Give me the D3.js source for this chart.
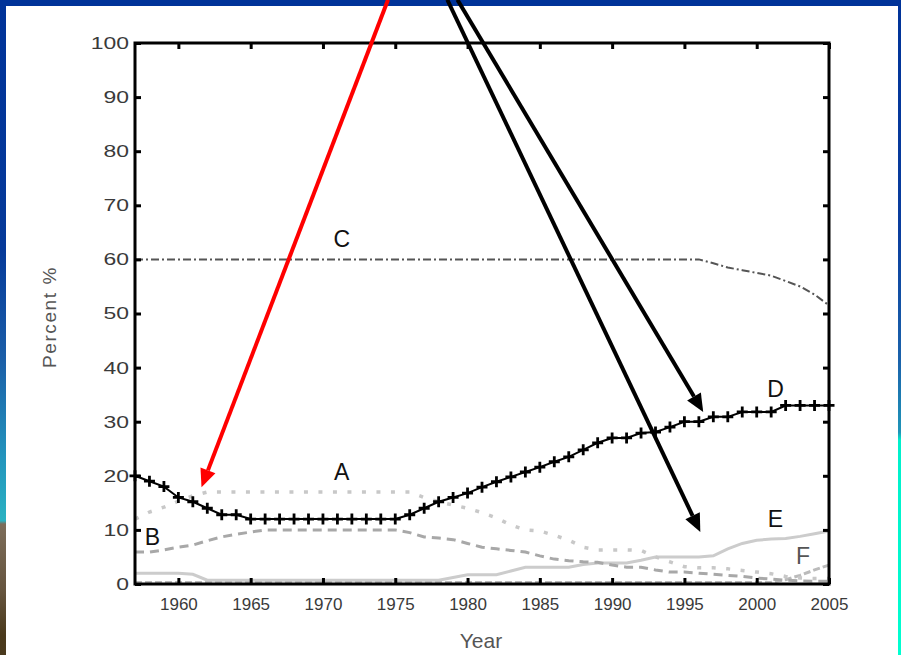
<!DOCTYPE html>
<html>
<head>
<meta charset="utf-8">
<script src="https://cdn.jsdelivr.net/npm/d3@7"></script>
<style>
  html, body { margin: 0; padding: 0; background: #003399; }
  svg { display: block; }
</style>
</head>
<body>
<svg id="chart" width="901" height="655"></svg>
<script>
// Years on the horizontal axis
const years = [1957,1958,1959,1960,1961,1962,1963,1964,1965,1966,1967,1968,1969,1970,
  1971,1972,1973,1974,1975,1976,1977,1978,1979,1980,1981,1982,1983,1984,1985,1986,
  1987,1988,1989,1990,1991,1992,1993,1994,1995,1996,1997,1998,1999,2000,2001,2002,
  2003,2004,2005];

// Percent shares per year for each group
const seriesA = [12,13.3,14.2,15.3,16.3,17,17,17,17,17,17,17,17,17,
  17,17,17,17,17,17,16,15.2,14.6,14,13.2,12.2,10.9,10,9.8,9,
  8.1,6.8,6.3,6.3,6.3,6.2,5,4.1,3.2,3,3,2.8,2.5,2.2,1.9,1.4,
  1.1,1,1];
const seriesB = [5.9,5.9,6.3,6.8,7.2,8,8.7,9.2,9.6,10,10,10,10,10,
  10,10,10,10,10,9.5,8.7,8.5,8.2,7.5,6.8,6.5,6.2,5.9,5.2,4.6,
  4.3,4.1,4,3.5,3.1,3.1,2.6,2.2,2.2,2,1.8,1.6,1.4,1.1,0.9,0.7,
  0.6,0.5,0.5];
const seriesC = [60,60,60,60,60,60,60,60,60,60,60,60,60,60,
  60,60,60,60,60,60,60,60,60,60,60,60,60,60,60,60,
  60,60,60,60,60,60,60,60,60,60,59.3,58.5,58,57.5,57,56,
  55,53.5,51.5];
const seriesD = [20,19,18,16,15.2,14,12.8,12.8,12,12,12,12,12,12,
  12,12,12,12,12,12.8,14,15.2,16,16.8,17.9,18.9,19.8,20.7,21.6,22.6,
  23.5,24.8,26.1,27,27,27.9,28.1,29,30,30,30.9,30.9,31.8,31.8,31.8,33,
  33,33,33];
const seriesE = [2,2,2,2,1.8,0.7,0.7,0.7,0.7,0.7,0.7,0.7,0.7,0.7,
  0.7,0.7,0.7,0.7,0.7,0.7,0.7,0.7,1.2,1.7,1.7,1.7,2.4,3.1,3.1,3.1,
  3.1,3.6,3.9,3.9,3.9,4.4,5,5,5,5,5.2,6.5,7.5,8.1,8.3,8.4,
  8.8,9.3,9.8];
const seriesF = [0.3,0.3,0.3,0.3,0.3,0.3,0.3,0.3,0.3,0.3,0.3,0.3,0.3,0.3,
  0.3,0.3,0.3,0.3,0.3,0.3,0.3,0.3,0.3,0.3,0.3,0.3,0.3,0.3,0.3,0.3,
  0.3,0.3,0.3,0.3,0.3,0.3,0.3,0.3,0.3,0.3,0.3,0.3,0.3,0.3,0.3,0.8,
  1.6,2.6,3.5];

// Axis ticks
const xTicks = [1960,1965,1970,1975,1980,1985,1990,1995,2000,2005];
const yTicks = [0,10,20,30,40,50,60,70,80,90,100];

// Curve labels: [text, year, percent]
const curveLabels = [["C",1971.3,62.3],["A",1971.3,19.2],["B",1958.2,7.2],
  ["D",2001.3,34.6],["E",2001.3,10.5],["F",2003.2,3.7]];

// Pointer arrows: [colour, startYear, startPct, tipYear, tipPct]
const pointers = [["#ff0000",1974.5,108,1961.6,17.9],
  ["#000000",1979.3,108,1996.3,31.8],
  ["#000000",1978.6,108,1996.1,9.6]];

const svg = d3.select("#chart");
const W = 901, H = 655;
const plot = {left: 135, right: 829, top: 43, bottom: 584};

// Slide frame: side strips with gradients and a white panel
const defs = svg.append("defs");
const gl = defs.append("linearGradient").attr("id","leftStrip")
  .attr("x1",0).attr("y1",0).attr("x2",0).attr("y2",1);
[[0,"#003399"],[0.38,"#063a9a"],[0.55,"#1b5fa8"],[0.7,"#2395bd"],[0.795,"#2ab2c2"],
 [0.8,"#7d6d5a"],[0.9,"#66553f"],[0.97,"#4b3a1c"],[1,"#4a3a1e"]]
  .forEach(([o,c]) => gl.append("stop").attr("offset",o).attr("stop-color",c));
const gr = defs.append("linearGradient").attr("id","rightStrip")
  .attr("x1",0).attr("y1",0).attr("x2",0).attr("y2",1);
[[0,"#003399"],[0.35,"#0a3d9e"],[0.55,"#1a62ab"],[0.66,"#1f95b8"],[0.672,"#00f0cc"],[1,"#00ffd0"]]
  .forEach(([o,c]) => gr.append("stop").attr("offset",o).attr("stop-color",c));

svg.append("rect").attr("width",W).attr("height",H).attr("fill","#003399");
svg.append("rect").attr("x",0).attr("y",0).attr("width",7).attr("height",H).attr("fill","url(#leftStrip)");
svg.append("rect").attr("x",897).attr("y",0).attr("width",4).attr("height",H).attr("fill","url(#rightStrip)");
svg.append("rect").attr("x",6).attr("y",6).attr("width",892).attr("height",H-6).attr("fill","#ffffff");

const x = d3.scaleLinear().domain([1957,2005]).range([plot.left, plot.right]);
const y = d3.scaleLinear().domain([0,100]).range([plot.bottom, plot.top]);

const g = svg.append("g");

// Series lines
const line = vals => d3.line().x((d,i) => x(years[i])).y(d => y(d))(vals);
const styles = [
  {v: seriesE, stroke: "#cccccc", w: 3, dash: null},
  {v: seriesF, stroke: "#bbbbbb", w: 3, dash: "7,3"},
  {v: seriesB, stroke: "#a8a8a8", w: 3, dash: "9,6"},
  {v: seriesA, stroke: "#c8c8c8", w: 3.5, dash: "4,10.5"},
  {v: seriesC, stroke: "#555555", w: 2, dash: "8,3,2,3"},
  {v: seriesD, stroke: "#000000", w: 2, dash: null}
];
styles.forEach(s => {
  g.append("path").attr("d", line(s.v)).attr("fill","none")
    .attr("stroke", s.stroke).attr("stroke-width", s.w)
    .attr("stroke-dasharray", s.dash);
});

// Plus markers on series D
g.append("g").selectAll("path").data(seriesD).join("path")
  .attr("d", (d,i) => {
    const cx = x(years[i]), cy = y(d), r = 5.5;
    return `M${cx-r},${cy}H${cx+r}M${cx},${cy-r}V${cy+r}`;
  })
  .attr("stroke","#000").attr("stroke-width",2.8).attr("fill","none");

// Box axes with inward ticks on all sides
const fontFam = "Arial, 'Liberation Sans', Helvetica, sans-serif";
const axisG = svg.append("g");
axisG.append("rect").attr("x",plot.left).attr("y",plot.top)
  .attr("width",plot.right-plot.left).attr("height",plot.bottom-plot.top)
  .attr("fill","none").attr("stroke","#000").attr("stroke-width",3);

const bottomAxis = d3.axisBottom(x).tickValues(xTicks).tickSize(-6).tickPadding(14).tickFormat(d3.format("d"));
const topAxis = d3.axisTop(x).tickValues(xTicks).tickSize(-6).tickFormat("");
const leftAxis = d3.axisLeft(y).tickValues(yTicks).tickSize(-6).tickPadding(0);
const rightAxis = d3.axisRight(y).tickValues(yTicks).tickSize(-6).tickFormat("");

function styleAxis(sel) {
  sel.select(".domain").remove();
  sel.selectAll(".tick line").attr("stroke","#000").attr("stroke-width",3);
  sel.selectAll(".tick text").attr("fill","#3a3a3a").attr("font-size",17).attr("font-family",fontFam);
}
axisG.append("g").attr("transform",`translate(0,${plot.bottom})`).call(bottomAxis).call(styleAxis);
axisG.append("g").attr("transform",`translate(0,${plot.top})`).call(topAxis).call(styleAxis);
const leftG = axisG.append("g").attr("transform",`translate(${plot.left},0)`).call(leftAxis).call(styleAxis);
// Vertical-axis numbers are set wider than the year labels
leftG.selectAll(".tick text").attr("x",null).attr("transform","translate(-6,0) scale(1.35,1)");
axisG.append("g").attr("transform",`translate(${plot.right},0)`).call(rightAxis).call(styleAxis);

// Axis titles
svg.append("text").attr("x",481).attr("y",648).attr("text-anchor","middle")
  .attr("font-family",fontFam).attr("font-size",21).attr("fill","#555").text("Year");
svg.append("text").attr("transform","translate(56,317) rotate(-90)").attr("text-anchor","middle")
  .attr("font-family",fontFam).attr("font-size",19).attr("letter-spacing",1.6)
  .attr("fill","#555").text("Percent %");

// Curve labels
svg.append("g").selectAll("text").data(curveLabels).join("text")
  .attr("x", d => x(d[1])).attr("y", d => y(d[2]))
  .attr("text-anchor","middle").attr("font-family",fontFam).attr("font-size",23)
  .attr("fill", d => d[0] === "F" ? "#555" : "#111").text(d => d[0]);

// Pointer arrows drawn over the chart
const arrowG = svg.append("g");
pointers.forEach(([col, sx, sy, tx, ty]) => {
  const x0 = x(sx), y0 = y(sy), x1 = x(tx), y1 = y(ty);
  const ang = Math.atan2(y1 - y0, x1 - x0);
  const headL = 18, headW = 8;
  const bx = x1 - headL * Math.cos(ang), by = y1 - headL * Math.sin(ang);
  arrowG.append("line").attr("x1",x0).attr("y1",y0).attr("x2",bx).attr("y2",by)
    .attr("stroke",col).attr("stroke-width",4);
  const px = -Math.sin(ang) * headW, py = Math.cos(ang) * headW;
  arrowG.append("path")
    .attr("d",`M${x1},${y1}L${bx+px},${by+py}L${bx-px},${by-py}Z`)
    .attr("fill",col);
});
</script>
</body>
</html>
